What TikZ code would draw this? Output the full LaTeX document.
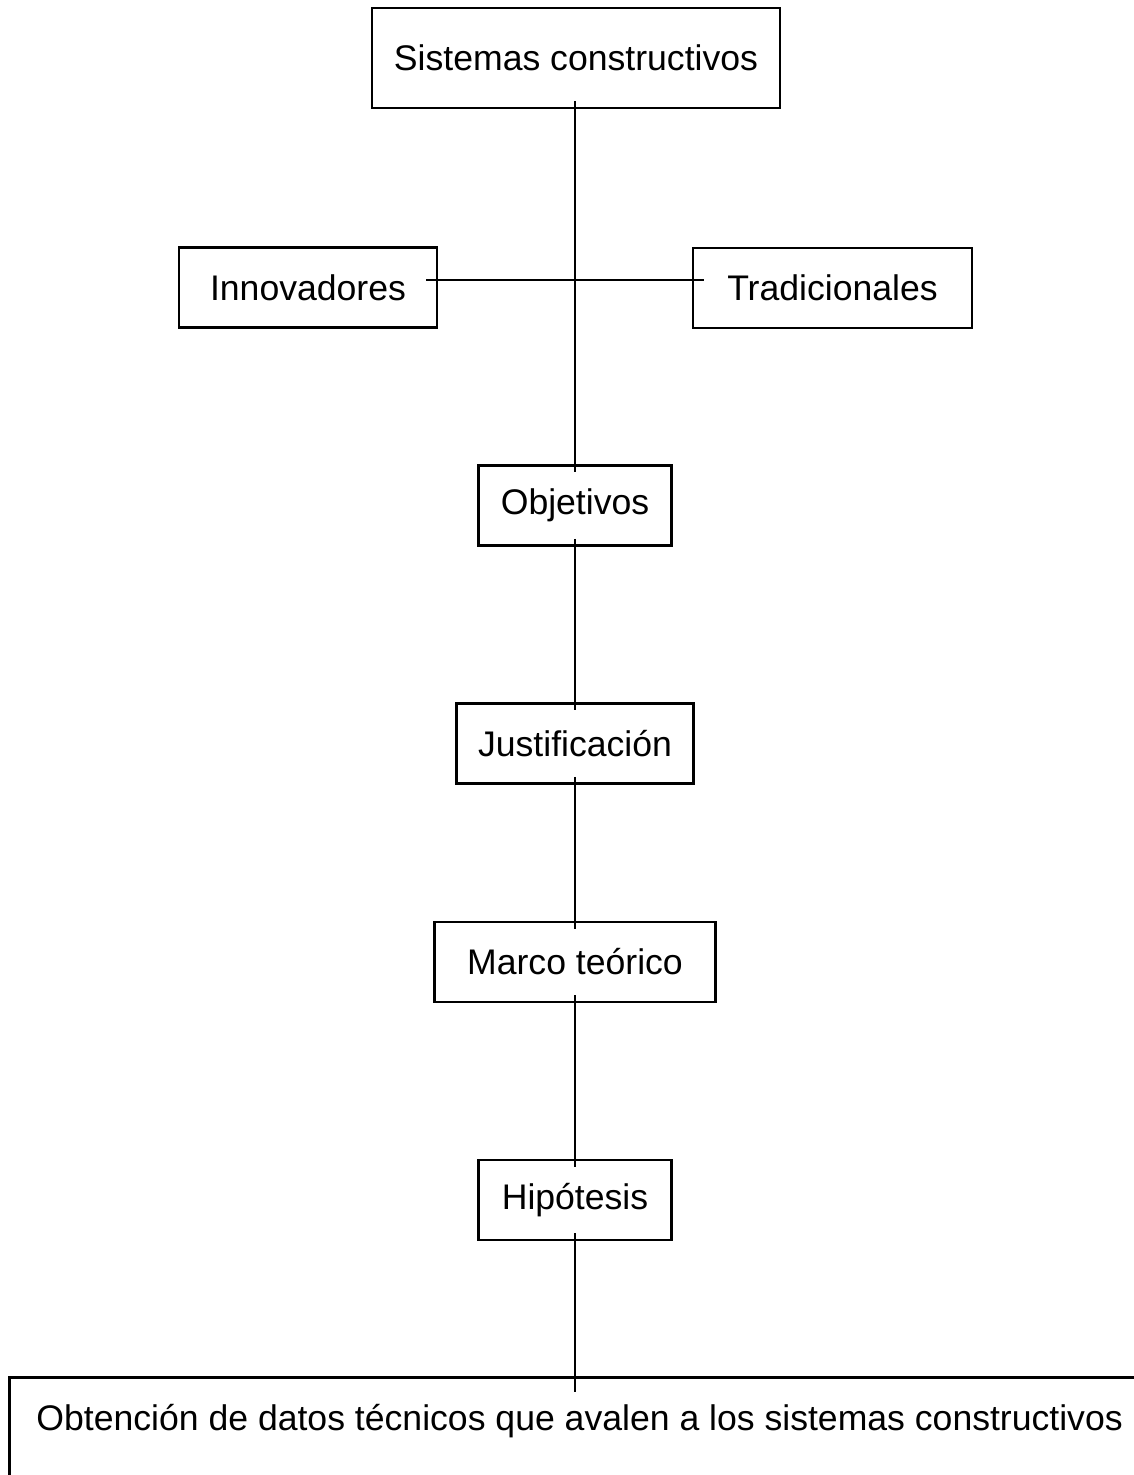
\documentclass[tikz,border=0pt]{standalone}
\usepackage{fontspec}
\setmainfont{Liberation Sans}

\begin{document}
\begin{tikzpicture}[
  x=1pt, y=1pt,
  box/.style={draw, rectangle, line width=1.4pt, minimum height=40pt,
  inner sep=0pt, font=\fontsize{17.8}{21}\selectfont},
  link/.style={draw, line width=1.4pt, shorten <=-4pt, shorten >=-4pt}
]
\useasboundingbox (0,0) rectangle (566.5,-737.5);

\node[box, minimum width=204pt, minimum height=50pt] (sis) at (288,-29) {Sistemas constructivos};
\node[box, minimum width=129pt] (inn) at (154,-143.75) {Innovadores};
\node[box, minimum width=139.5pt] (tra) at (416.25,-144) {Tradicionales};
\node[box, minimum width=96.5pt] (obj) at (287.5,-252.75) {Objetivos};
\node[box, minimum width=118.5pt] (jus) at (287.5,-371.75) {Justificación};
\node[box, minimum width=140.5pt] (mar) at (287.5,-481) {Marco teórico};
\node[box, minimum width=96.5pt] (hip) at (287.5,-600) {Hipótesis};
\node[box, anchor=north west, minimum width=600pt, minimum height=120pt] (obt) at (4,-688) {};
\node[font=\fontsize{17.8}{21}\selectfont, anchor=west, inner sep=0pt] (obtxt)
  at ([xshift=14pt, yshift=-22.5pt]obt.north west)
  {Obtención de datos técnicos que avalen a los sistemas constructivos};

% spine
\draw[link] (obj.north |- sis.south) -- (obj.north);
\draw[link] (obj) -- (jus);
\draw[link] (jus) -- (mar);
\draw[link] (mar) -- (hip);
\draw[link, shorten >=-8pt] (hip.south) -- (hip.south |- obt.north);

% branches
\draw[link, shorten <=-6pt, shorten >=-6pt] ([yshift=3.75pt]inn.east) -- ([yshift=3.75pt]inn.east -| tra.west);

\end{tikzpicture}
\end{document}
